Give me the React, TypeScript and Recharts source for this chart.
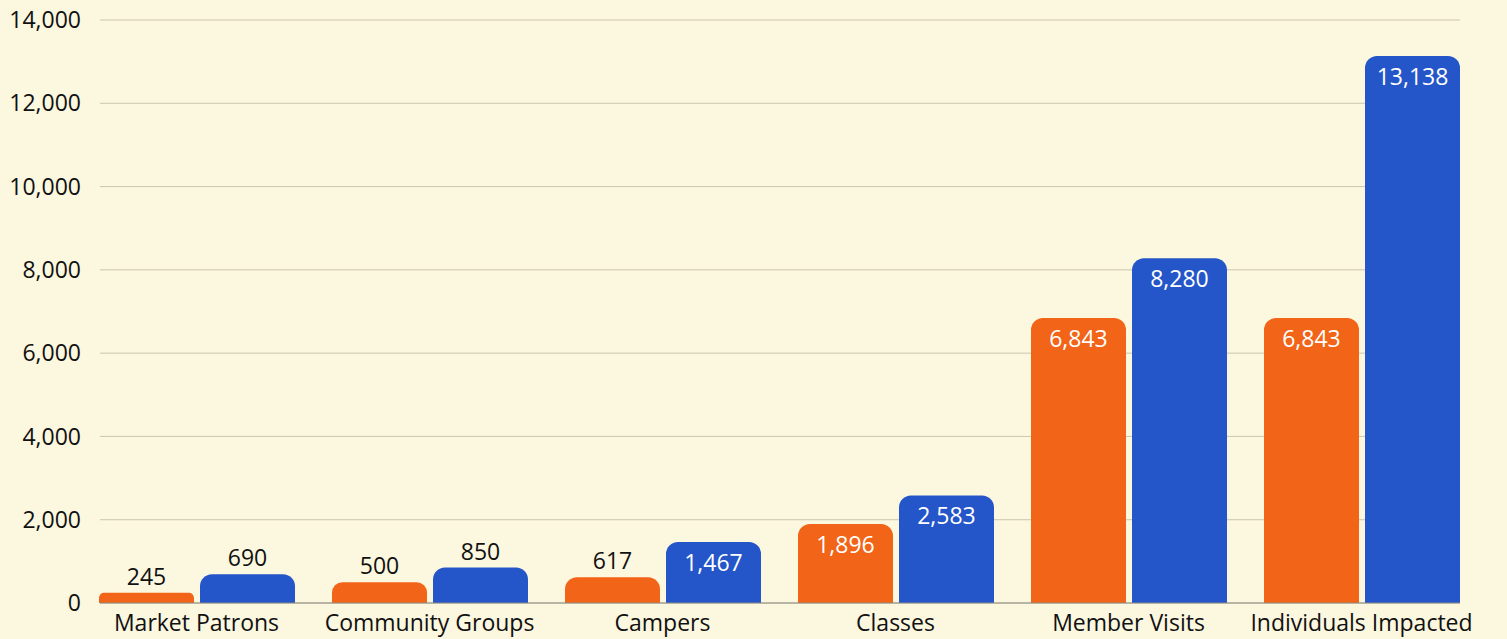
import React from 'react';
import { BarChart, Bar, XAxis, YAxis, CartesianGrid, LabelList } from 'recharts';

const categories = ['Market Patrons', 'Community Groups', 'Campers', 'Classes', 'Member Visits', 'Individuals Impacted'];
const firstSeries = [245, 500, 617, 1896, 6843, 6843];
const secondSeries = [690, 850, 1467, 2583, 8280, 13138];
const yTicks = [0, 2000, 4000, 6000, 8000, 10000, 12000, 14000];

const data = categories.map((name, i) => ({ name, first: firstSeries[i], second: secondSeries[i] }));

const FONT = '"Open Sans", "DejaVu Sans", sans-serif';
const fmt = (v: number) => v.toLocaleString('en-US');

function ValueLabel(props: any) {
  const { x, y, width, height, value } = props;
  const cx = x + width / 2;
  const inside = height > 45;
  return (
    <text
      x={cx}
      y={inside ? y + 20 : y - 17}
      fill={inside ? '#ffffff' : '#111111'}
      fontSize={23}
      fontWeight={500}
      fontFamily={FONT}
      textAnchor="middle"
      dominantBaseline="central"
    >
      {fmt(value)}
    </text>
  );
}

export default function App() {
  return (
    <div style={{ position: 'fixed', left: 0, top: 0, width: 1507, height: 639, background: '#fcf7df' }}>
      <BarChart
        width={1507}
        height={639}
        data={data}
        margin={{ top: 20, right: 47, bottom: 0, left: 0 }}
        barGap={6}
        barSize={95}
      >
        <CartesianGrid vertical={false} stroke="#cbc6b1" />
        <XAxis
          dataKey="name"
          height={36}
          padding={{ left: -20, right: -18 }}
          tickLine={false}
          tickSize={0}
          tickMargin={12}
          axisLine={{ stroke: '#8d8b80' }}
          tick={{ fill: '#111111', fontSize: 23, fontWeight: 500, fontFamily: FONT }}
          interval={0}
        />
        <YAxis
          width={100}
          domain={[0, 14000]}
          ticks={yTicks}
          tickFormatter={fmt}
          axisLine={false}
          tickLine={false}
          tickSize={0}
          tickMargin={19}
          tick={{ fill: '#111111', fontSize: 23, fontWeight: 500, fontFamily: FONT }}
        />
        <Bar dataKey="first" fill="#f26418" radius={[12, 12, 0, 0]} isAnimationActive={false}>
          <LabelList dataKey="first" content={ValueLabel} />
        </Bar>
        <Bar dataKey="second" fill="#2456c9" radius={[12, 12, 0, 0]} isAnimationActive={false}>
          <LabelList dataKey="second" content={ValueLabel} />
        </Bar>
      </BarChart>
    </div>
  );
}
